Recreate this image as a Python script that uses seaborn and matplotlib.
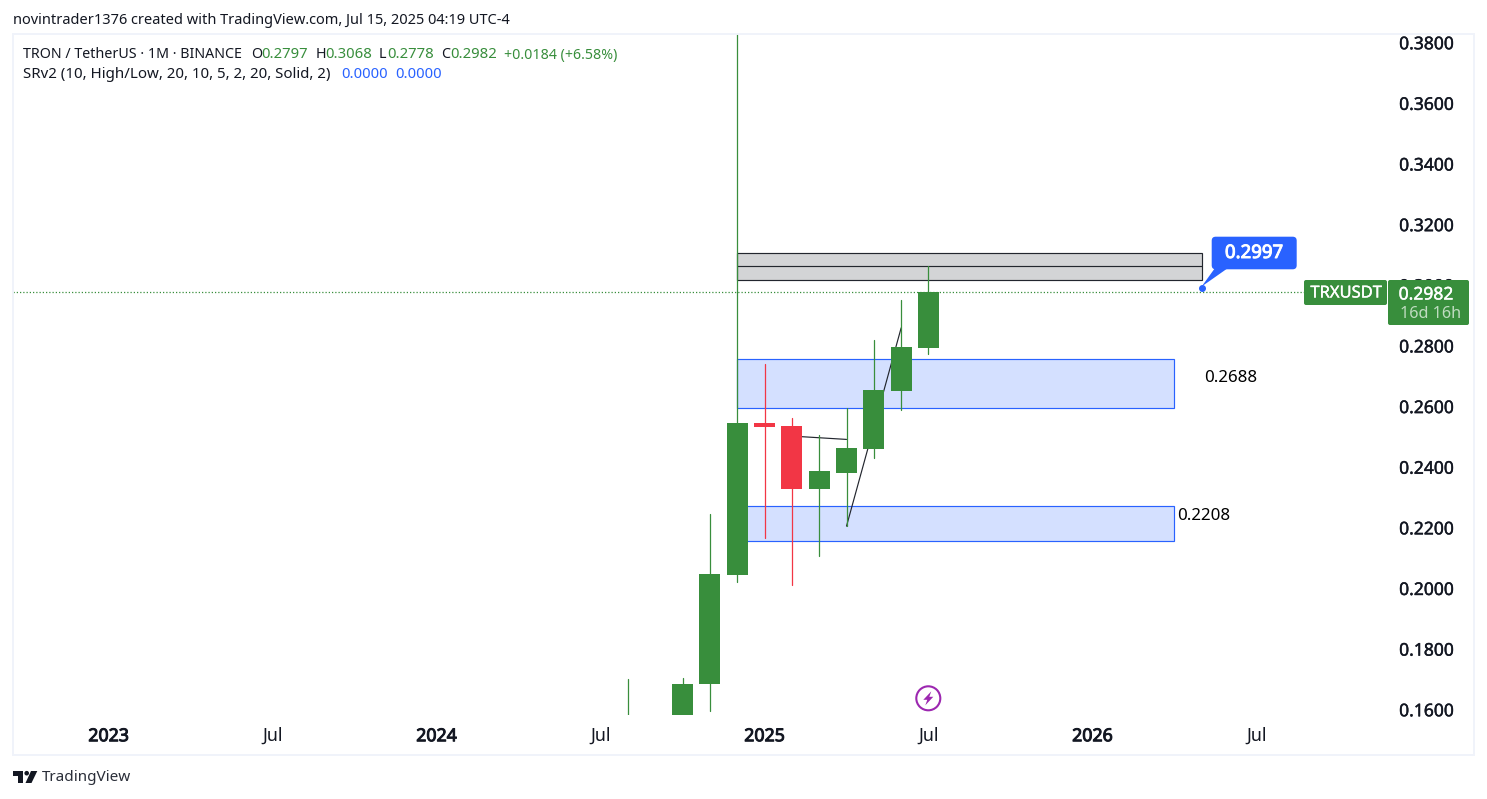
import matplotlib
matplotlib.use("Agg")
import matplotlib.pyplot as plt
import matplotlib.patheffects as pe
import pandas as pd
import seaborn as sns
from matplotlib.patches import Circle, FancyBboxPatch, Polygon, Rectangle
from matplotlib.transforms import Affine2D, ScaledTranslation

# Monthly TRX/USDT candles, month index counted from Jan 2023
months = [19, 21, 22, 23, 24, 25, 26, 27, 28, 29, 30]
opens = [0.1240, 0.1527, 0.1688, 0.2049, 0.2550, 0.2541, 0.2333, 0.2386, 0.2465, 0.2657, 0.2797]
highs = [0.1706, 0.1709, 0.2250, 0.4498, 0.2745, 0.2567, 0.2511, 0.2600, 0.2824, 0.2956, 0.3068]
lows = [0.1200, 0.1450, 0.1601, 0.2027, 0.2172, 0.2016, 0.2112, 0.2210, 0.2436, 0.2594, 0.2778]
closes = [0.1500, 0.1689, 0.2052, 0.2550, 0.2537, 0.2333, 0.2392, 0.2468, 0.2659, 0.2801, 0.2982]

# Support and resistance zones: left month, right month, lower price, upper price
blue_zone_upper = [23, 39, 0.2599, 0.2760]
blue_zone_lower = [23, 39, 0.2160, 0.2275]
gray_zone = [23, 40, 0.3021, 0.3110]
gray_zone_mid = 0.3067

# Hand-drawn trend lines
trend_a_x, trend_a_y = [25, 27], [0.2507, 0.2496]
trend_b_x, trend_b_y = [27, 29], [0.2210, 0.2864]

last_price = 0.2982
callout_price = 0.2997
callout_month = 40

price_ticks = [0.16, 0.18, 0.20, 0.22, 0.24, 0.26, 0.28, 0.30, 0.32, 0.34, 0.36, 0.38]
time_ticks = [0, 6, 12, 18, 24, 30, 36, 42]
time_labels = ["2023", "Jul", "2024", "Jul", "2025", "Jul", "2026", "Jul"]

GREEN = "#388e3c"
RED = "#f23645"
BLUE = "#2962ff"
INK = "#131722"
FONT = ["Noto Sans", "DejaVu Sans"]
THIN = 0.85
WICK = 0.9


def heavier(artist, amount, colour=INK):
    # Thicken glyphs with a thin outline of the same colour
    artist.set_path_effects([pe.withStroke(linewidth=amount, foreground=colour)])


W, H = 1487, 799
sns.set_theme(style="white")
plt.rcParams["font.family"] = FONT

fig = plt.figure(figsize=(W / 100, H / 100), dpi=100, facecolor="white")
# Pixel-space transform with the origin at the top left of the figure
px = Affine2D().scale(1 / W, -1 / H).translate(0, 1) + fig.transFigure

left, right, top, bottom = 13, 1388, 34, 715
ax = fig.add_axes([left / W, 1 - bottom / H, (right - left) / W, (bottom - top) / H])
ax.set_facecolor("none")

candles = pd.DataFrame({"month": months, "open": opens, "high": highs, "low": lows, "close": closes})
candles["up"] = candles["close"] >= candles["open"]
candles["base"] = candles[["open", "close"]].min(axis=1)
candles["body"] = (candles["close"] - candles["open"]).abs()

# Zones sit behind the candles
for (x0, x1, y0, y1) in (blue_zone_upper, blue_zone_lower):
    ax.add_patch(Rectangle((x0, y0), x1 - x0, y1 - y0, facecolor="#d4e0ff",
                           edgecolor=BLUE, linewidth=THIN, zorder=1))
x0, x1, y0, y1 = gray_zone
ax.add_patch(Rectangle((x0, y0), x1 - x0, y1 - y0, facecolor="#d3d4d6",
                       edgecolor="#22262e", linewidth=THIN, zorder=1))
mid = ax.hlines(gray_zone_mid, x0, x1, color="#22262e", linewidth=THIN, zorder=1.1)
mid.set_snap(True)

price_line = ax.axhline(last_price, color=GREEN, linewidth=0.9, linestyle=(0, (1, 1.6)), zorder=1.2)
price_line.set_snap(True)

# Trend lines pass behind the candle bodies
for tx, ty in ((trend_a_x, trend_a_y), (trend_b_x, trend_b_y)):
    sns.lineplot(x=tx, y=ty, color="#22262e", linewidth=0.85, ax=ax, zorder=1.5,
                 estimator=None, sort=False)

# Wicks
wicks = candles.melt(id_vars=["month", "up"], value_vars=["low", "high"], value_name="price")
n_before = len(ax.lines)
for is_up, colour in ((True, GREEN), (False, RED)):
    part = wicks[wicks["up"] == is_up]
    sns.lineplot(data=part, x="month", y="price", units="month", estimator=None,
                 color=colour, linewidth=WICK, ax=ax, zorder=2, sort=False)
for line in ax.lines[n_before:]:
    line.set_snap(True)

# Bodies
for is_up, colour in ((True, GREEN), (False, RED)):
    part = candles[candles["up"] == is_up]
    sns.barplot(data=part, x="month", y="body", bottom=part["base"].to_numpy(),
                native_scale=True, width=0.77, color=colour, saturation=1,
                linewidth=0, errorbar=None, ax=ax, zorder=3)

ax.set_xlim((left - 108.6) / 27.33, (right - 108.6) / 27.33)
ax.set_ylim(0.30 - (bottom - 286.6) / 3032, 0.30 - (top - 286.6) / 3032)
ax.set_xlabel("")
ax.set_ylabel("")
for spine in ax.spines.values():
    spine.set_visible(False)

ax.yaxis.tick_right()
ax.set_yticks(price_ticks, [f"{p:.4f}" for p in price_ticks])
ax.set_xticks(time_ticks, time_labels)
ax.tick_params(axis="y", length=0, pad=8, labelsize=12.6, labelcolor=INK)
ax.tick_params(axis="x", length=0, pad=8.8, labelsize=12.8, labelcolor=INK)
for label in ax.get_xticklabels():
    if label.get_text().isdigit():
        heavier(label, 0.7)
raise_labels = ScaledTranslation(0, 1.3 / 72, fig.dpi_scale_trans)
for label in ax.get_yticklabels():
    heavier(label, 0.3)
    label.set_transform(label.get_transform() + raise_labels)

# Zone price annotations
ax.text(40.07, 0.2699, "0.2688", fontsize=12.2, color="black", va="center", ha="left", zorder=5)
ax.text(39.08, 0.2243, "0.2208", fontsize=12.2, color="black", va="center", ha="left", zorder=5)

# Callout pointing at the marked price
ax.plot([callout_month], [callout_price], "o", color=BLUE, markersize=4, zorder=6, clip_on=False)
fig.add_artist(Polygon([(1201.7, 286.5), (1215, 268), (1228, 268)], closed=True, transform=px,
                       facecolor=BLUE, edgecolor="none"))
fig.add_artist(FancyBboxPatch((1214.7, 239.7), 79, 26.6, boxstyle="round,pad=3,rounding_size=4",
                              transform=px, facecolor=BLUE, edgecolor="none"))
callout_text = fig.text(1254, 253, f"{callout_price:.4f}", transform=px, color="white", fontsize=13.4,
                        ha="center", va="center")
heavier(callout_text, 0.7, "white")

# Symbol and last-price tags on the price scale
fig.add_artist(FancyBboxPatch((1305, 281), 81, 23, boxstyle="round,pad=1,rounding_size=2",
                              transform=px, facecolor=GREEN, edgecolor="none"))
fig.add_artist(FancyBboxPatch((1389, 281), 79, 43, boxstyle="round,pad=1,rounding_size=2",
                              transform=px, facecolor=GREEN, edgecolor="none"))
symbol_tag = fig.text(1346, 293.5, "TRXUSDT", transform=px, color="white", fontsize=11.9,
                      ha="center", va="center")
heavier(symbol_tag, 0.25, "white")
price_tag = fig.text(1426, 294.5, f"{last_price:.4f}", transform=px, color="white", fontsize=12.6,
                     ha="center", va="center")
heavier(price_tag, 0.3, "white")
fig.text(1431, 313.5, "16d 16h", transform=px, color="#bfdcc0", fontsize=11.6,
         ha="center", va="center")

# Pane frame
fig.add_artist(Rectangle((13, 34), 1461, 721, transform=px, facecolor="none",
                         edgecolor="#f0f3fa", linewidth=1.4))

# Event marker below the last candle
fig.add_artist(Circle((928.3, 698.3), 12, transform=px, facecolor="white",
                      edgecolor="#9c27b0", linewidth=1.5))
bolt = [(3, -7), (-5, 1.5), (-1, 1.5), (-3, 7), (5, -1.5), (1, -1.5)]
fig.add_artist(Polygon([(928.3 + a, 698.3 + b) for a, b in bolt], closed=True, transform=px,
                       facecolor="#9c27b0", edgecolor="none"))

# Header and legend lines: x, y, text, colour, size
text_runs = [
    (13, 21, "novintrader1376 created with TradingView.com, Jul 15, 2025 04:19 UTC-4", INK, 10.5),
    (23, 55, "TRON / TetherUS · 1M · BINANCE", INK, 10.25),
    (251, 55, "O", INK, 10.25), (261, 55, "0.2797", GREEN, 10.7),
    (316, 55, "H", INK, 10.25), (325, 55, "0.3068", GREEN, 10.7),
    (379, 55, "L", INK, 10.25), (387, 55, "0.2778", GREEN, 10.7),
    (441, 55, "C", INK, 10.25), (450, 55, "0.2982", GREEN, 10.7),
    (504, 55, "+0.0184 (+6.58%)", GREEN, 10.2),
    (23, 75, "SRv2 (10, High/Low, 20, 10, 5, 2, 20, Solid, 2)", INK, 10.85),
    (341, 75, "0.0000", BLUE, 10.7), (395, 75, "0.0000", BLUE, 10.7),
]
for x, y, text, colour, size in text_runs:
    fig.text(x, y, text, transform=px, color=colour, fontsize=size, va="center", ha="left")

# Footer logo
logo_parts = [
    [(13, 771), (23, 771), (23, 783), (18, 783), (18, 775.5), (13, 775.5)],
    [(31, 771), (37.3, 771), (31.5, 783), (25.5, 783)],
]
for part in logo_parts:
    fig.add_artist(Polygon(part, closed=True, transform=px, facecolor=INK, edgecolor="none"))
fig.add_artist(Circle((26.7, 773.2), 2.3, transform=px, facecolor=INK, edgecolor="none"))
fig.text(42, 777.5, "TradingView", transform=px, color="#2a2e39", fontsize=11, va="center", ha="left")

fig.savefig("out.png", dpi=100, facecolor="white")
